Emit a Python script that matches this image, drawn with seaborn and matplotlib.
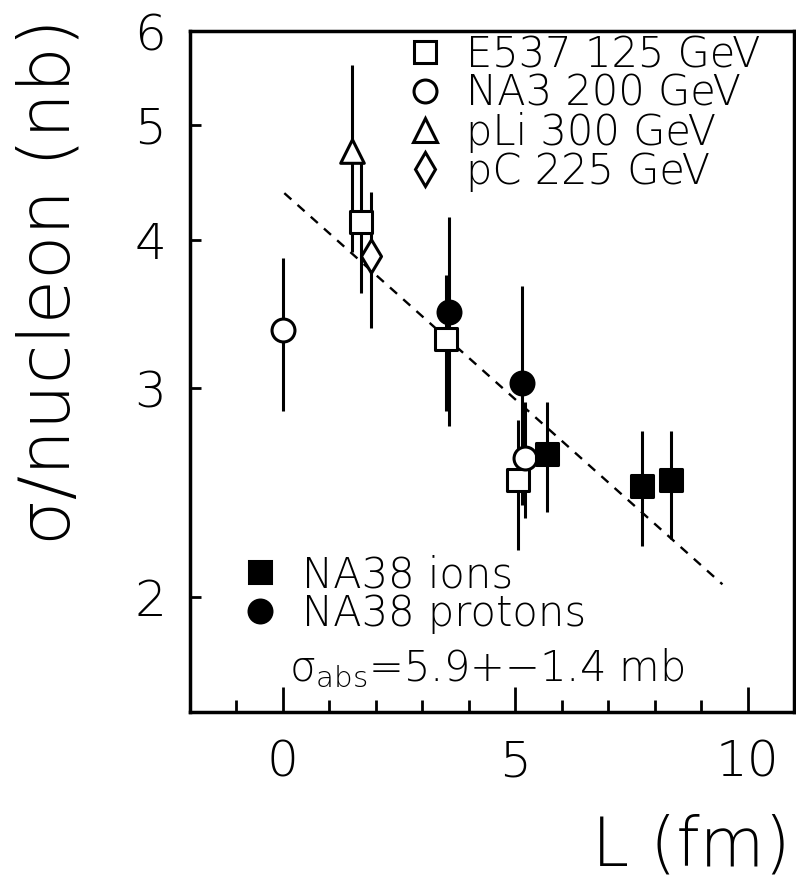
import numpy as np
import matplotlib
matplotlib.use('Agg')
import matplotlib.pyplot as plt
from matplotlib.lines import Line2D
from matplotlib.ticker import MultipleLocator, NullLocator, FixedLocator
import seaborn as sns

# E537 125 GeV (open squares)
e537_L = [1.67, 3.51, 5.07]
e537_sig = [4.14, 3.30, 2.51]
e537_lo = [3.61, 2.87, 2.19]
e537_hi = [4.66, 3.74, 2.82]

# NA3 200 GeV (open circles)
na3_L = [0.0, 5.20]
na3_sig = [3.36, 2.62]
na3_lo = [2.87, 2.33]
na3_hi = [3.86, 2.92]

# pLi 300 GeV (open triangle)
pli_L = [1.48]
pli_sig = [4.75]
pli_lo = [3.91]
pli_hi = [5.62]

# pC 225 GeV (open diamond)
pc_L = [1.90]
pc_sig = [3.88]
pc_lo = [3.37]
pc_hi = [4.39]

# NA38 protons (filled circles)
prot_L = [3.57, 5.15]
prot_sig = [3.48, 3.03]
prot_lo = [2.79, 2.39]
prot_hi = [4.18, 3.66]

# NA38 ions (filled squares)
ions_L = [5.68, 7.72, 8.35]
ions_sig = [2.64, 2.48, 2.51]
ions_lo = [2.36, 2.21, 2.24]
ions_hi = [2.92, 2.76, 2.76]

# absorption fit (dashed)
fit_L = [0.03, 9.46]
fit_sig = [4.38, 2.05]

y_ticks = [2, 3, 4, 5, 6]

sns.set_style('ticks')
plt.rcParams['font.family'] = ['DejaVu Sans']
plt.rcParams['font.weight'] = 'light'
plt.rcParams['mathtext.fontset'] = 'dejavusans'
plt.rcParams['text.color'] = 'black'
plt.rcParams['xtick.color'] = 'black'
plt.rcParams['ytick.color'] = 'black'

fig = plt.figure(figsize=(7.96, 8.9), dpi=100)
ax = fig.add_axes([190 / 796, 1 - 712 / 890, (794 - 190) / 796, (712 - 31) / 890])

series = [
    (e537_L, e537_sig, e537_lo, e537_hi, 's', 'white', 'E537 125 GeV'),
    (na3_L, na3_sig, na3_lo, na3_hi, 'o', 'white', 'NA3 200 GeV'),
    (pli_L, pli_sig, pli_lo, pli_hi, '^', 'white', 'pLi 300 GeV'),
    (pc_L, pc_sig, pc_lo, pc_hi, 'd', 'white', 'pC 225 GeV'),
    (ions_L, ions_sig, ions_lo, ions_hi, 's', 'black', 'NA38 ions'),
    (prot_L, prot_sig, prot_lo, prot_hi, 'o', 'black', 'NA38 protons'),
]

msize = {'s': 15.5, 'o': 16.5, '^': 17, 'd': 17}

for L, sig, lo, hi, mk, fc, lab in series:
    sig = np.array(sig)
    yerr = [sig - np.array(lo), np.array(hi) - sig]
    ax.errorbar(L, sig, yerr=yerr, fmt='none', ecolor='black', elinewidth=2.2,
                capsize=0, zorder=2)
    sns.scatterplot(x=L, y=sig, marker=mk, s=msize[mk] ** 2, facecolor=fc,
                    edgecolor='black', linewidth=2.2, zorder=3, ax=ax)

sns.lineplot(x=fit_L, y=fit_sig, color='black', linestyle=(0, (4, 3.5)),
             lw=1.7, ax=ax, zorder=1)

ax.set_yscale('log')
ax.set_xlim(-2, 11)
ax.set_ylim(1.6, 6)
ax.yaxis.set_major_locator(FixedLocator(y_ticks))
ax.yaxis.set_minor_locator(NullLocator())
ax.set_yticklabels([str(t) for t in y_ticks])
ax.xaxis.set_major_locator(MultipleLocator(5))
ax.xaxis.set_minor_locator(MultipleLocator(1))

ax.tick_params(axis='x', which='major', direction='in', length=18, width=2,
               labelsize=36, pad=19, top=False)
ax.tick_params(axis='x', which='minor', direction='in', length=9, width=2, top=False)
ax.tick_params(axis='y', which='major', direction='in', length=8, width=2,
               labelsize=36, pad=17, right=False)
for sp in ax.spines.values():
    sp.set_linewidth(2.5)
    sp.set_color('black')
ax.set_xlabel('')
ax.set_ylabel('')

fig.text(790 / 796, 1 - 847 / 890, 'L (fm)', ha='right', va='center', fontsize=48)
fig.text(50 / 796, 1 - 18 / 890, 'σ/nucleon (nb)', rotation=90, ha='center',
         va='top', fontsize=52)
fig.text(487 / 796, 1 - 668 / 890, r'σ$_{\mathrm{abs}}$=5.9+−1.4 mb',
         ha='center', va='center', fontsize=30)


def handle(mk, fc):
    return Line2D([], [], ls='none', marker=mk, markersize=msize[mk],
                  markerfacecolor=fc, markeredgecolor='black', markeredgewidth=2.2)


top = [s for s in series[:4]]
bot = [s for s in series[4:]]
leg1 = ax.legend([handle(s[4], s[5]) for s in top], [s[6] for s in top],
                 loc='upper left', bbox_to_anchor=(404 / 796, 1 - 34 / 890),
                 bbox_transform=fig.transFigure, frameon=False, fontsize=30,
                 handlelength=1.0, handletextpad=0.5, labelspacing=-0.05,
                 borderpad=0, borderaxespad=0)
ax.add_artist(leg1)
ax.legend([handle(s[4], s[5]) for s in bot], [s[6] for s in bot],
          loc='upper left', bbox_to_anchor=(239 / 796, 1 - 554 / 890),
          bbox_transform=fig.transFigure, frameon=False, fontsize=30,
          handlelength=1.0, handletextpad=0.5, labelspacing=-0.05,
          borderpad=0, borderaxespad=0)

fig.savefig('out.png', dpi=100)
